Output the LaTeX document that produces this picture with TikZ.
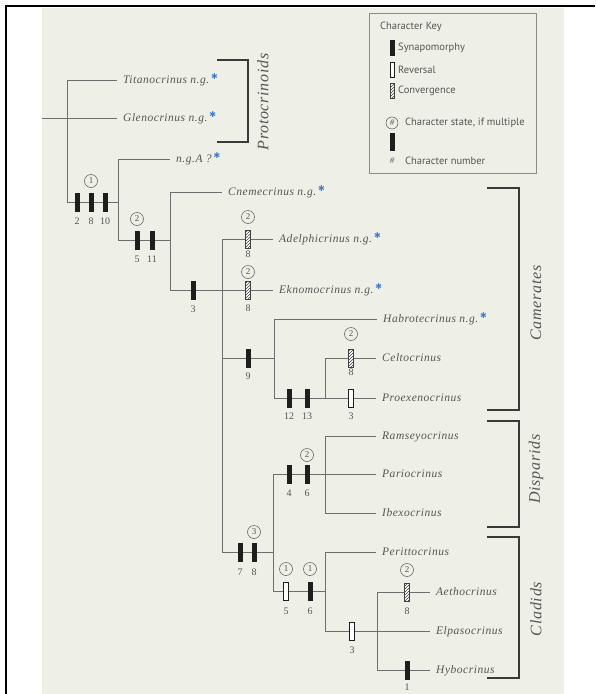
\documentclass[tikz,border=0pt]{standalone}
\usepackage{fontspec}
\setmainfont{Liberation Serif}
\newfontfamily\leaffont{Liberation Serif}[LetterSpace=4.5]
\newfontfamily\keyfont{PT Sans}
\newfontfamily\symfont{DejaVu Sans}
\usetikzlibrary{patterns}
\definecolor{bgbeige}{HTML}{EEEFE6}
\definecolor{linegray}{HTML}{6E6E6E}
\definecolor{textgray}{HTML}{555555}
\definecolor{brackgray}{HTML}{3A3A3A}
\definecolor{markblack}{HTML}{1E1E1E}
\definecolor{starblue}{HTML}{3C7DD9}
\newcommand{\bluestar}{\,\raisebox{3.5pt}{\textcolor{starblue}{\symfont\fontsize{8}{8}\selectfont ✱}}}
\begin{document}
\begin{tikzpicture}[x=1pt,y=-1pt,
  tl/.style={draw=linegray, line width=0.7pt},
  synmark/.style={rectangle, draw=markblack, fill=markblack, minimum width=4.5pt, minimum height=18pt, inner sep=0pt},
  revmark/.style={rectangle, draw=markblack, fill=white, line width=0.6pt, minimum width=4.5pt, minimum height=18pt, inner sep=0pt},
  convmark/.style={rectangle, draw=markblack!85, line width=0.6pt, preaction={fill=white}, pattern=north east lines, pattern color=markblack!85, minimum width=4.5pt, minimum height=18pt, inner sep=0pt},
  cnum/.style={circle, draw=textgray, line width=0.5pt, minimum size=13pt, inner sep=0pt, text=textgray, font=\fontsize{9}{9}\selectfont},
  chnum/.style={inner sep=0pt, text=textgray, font=\fontsize{10}{10}\selectfont},
  leaf/.style={anchor=west, inner xsep=6pt, inner ysep=0pt, text height=8pt, text depth=2pt, text=textgray, font=\leaffont\itshape\fontsize{11.5}{12}\selectfont},
  brk/.style={draw=brackgray, line width=1.6pt},
  grp/.style={rotate=90, inner sep=0pt, text=textgray, font=\leaffont\itshape\fontsize{16}{16}\selectfont},
  keytext/.style={anchor=west, inner sep=0pt, text=textgray, font=\keyfont\fontsize{10.5}{10.5}\selectfont}
]
\useasboundingbox (0,0) rectangle (595,694);
\fill[white] (0,0) rectangle (595,694);
\fill[bgbeige] (42,8) rectangle (564,694);
\draw[black, line width=2pt] (6,694) -- (6,6) -- (595,6);

% key
\draw[draw=linegray!80, line width=0.7pt] (369,13) rectangle (536,173);
\node[keytext] (kt) at (380,27) {Character Key};
\node[synmark, minimum height=15pt, minimum width=4pt] (ks) at (392,48) {};
\node[keytext] (ksl) at (398,48) {Synapomorphy};
\node[revmark, minimum height=15pt, minimum width=4pt] (kr) at (392,70) {};
\node[keytext] (krl) at (398,70) {Reversal};
\node[convmark, minimum height=15pt, minimum width=4pt] (kc) at (392,91) {};
\node[keytext] (kcl) at (398,91) {Convergence};
\node[cnum, minimum size=12pt] (kcs) at (392,123) {\itshape\#};
\node[keytext] (kcsl) at (405,123) {Character state, if multiple};
\node[synmark, minimum height=17pt, minimum width=4pt] (kn) at (392,142) {};
\node[inner sep=0pt, text=textgray, font=\itshape\fontsize{9}{9}\selectfont] (kh) at (392,161) {\#};
\node[keytext] (knl) at (405,161) {Character number};

% leaves
\node[leaf] (tit) at (117,80) {Titanocrinus n.g.\bluestar};
\node[leaf] (gle) at (117,118) {Glenocrinus n.g.\bluestar};
\node[leaf] (nga) at (170,159) {n.g.A ?\bluestar};
\node[leaf] (cne) at (222,192) {Cnemecrinus n.g.\bluestar};
\node[leaf] (ade) at (273,239) {Adelphicrinus n.g.\bluestar};
\node[leaf] (ekn) at (273,290) {Eknomocrinus n.g.\bluestar};
\node[leaf] (hab) at (377,319) {Habrotecrinus n.g.\bluestar};
\node[leaf] (cel) at (376,358) {Celtocrinus};
\node[leaf] (pro) at (376,398) {Proexenocrinus};
\node[leaf] (ram) at (376,436) {Ramseyocrinus};
\node[leaf] (par) at (376,474) {Pariocrinus};
\node[leaf] (ibe) at (376,513) {Ibexocrinus};
\node[leaf] (per) at (376,552) {Perittocrinus};
\node[leaf] (aet) at (430,592) {Aethocrinus};
\node[leaf] (elp) at (430,631) {Elpasocrinus};
\node[leaf] (hyb) at (430,670) {Hybocrinus};

% junctions
\coordinate (gl0) at (42,118);
\coordinate (j0) at (67,202);
\coordinate (j1) at (118,202);
\coordinate (j2) at (170,240);
\coordinate (j3) at (222,290);
\coordinate (j4) at (274,358);
\coordinate (j5) at (273,552);
\coordinate (j6) at (325,398);
\coordinate (j7) at (325,474);
\coordinate (j8) at (325,591);
\coordinate (j9) at (377,631);

\draw[tl] (gl0) -- (gle.west);
\draw[tl] (j0) |- (tit.west);
\draw[tl] (j0) -- (j1);
\draw[tl] (j1) |- (nga.west);
\draw[tl] (j1) |- (j2);
\draw[tl] (j2) |- (cne.west);
\draw[tl] (j2) |- (ekn.west);
\draw[tl] (j3) |- (ade.west);
\draw[tl] (j3) |- (j4);
\draw[tl] (j3) |- (j5);
\draw[tl] (j4) |- (hab.west);
\draw[tl] (j4) |- (j6);
\draw[tl] (j6) |- (cel.west);
\draw[tl] (j6) -- (pro.west);
\draw[tl] (j5) |- (j7);
\draw[tl] (j5) |- (j8);
\draw[tl] (j7) |- (ram.west);
\draw[tl] (j7) -- (par.west);
\draw[tl] (j7) |- (ibe.west);
\draw[tl] (j8) |- (per.west);
\draw[tl] (j8) |- (j9);
\draw[tl] (j9) |- (aet.west);
\draw[tl] (j9) -- (elp.west);
\draw[tl] (j9) |- (hyb.west);

% character marks
\node[synmark] (m1) at (77,202) {};
\node[synmark] (m2) at (91,202) {};
\node[synmark] (m3) at (105,202) {};
\node[cnum] (c1) at (91,181) {1};
\node[chnum] at (77,221) {2};
\node[chnum] at (91,221) {8};
\node[chnum] at (105,221) {10};

\node[synmark] (m4) at (137,240) {};
\node[synmark] (m5) at (152,240) {};
\node[cnum] (c2) at (137,219) {2};
\node[chnum] at (137,259) {5};
\node[chnum] at (152,259) {11};

\node[synmark] (m6) at (193,290) {};
\node[chnum] at (193,309) {3};

\node[convmark] (m7) at (248,239) {};
\node[cnum] (c3) at (248,217) {2};
\node[chnum] at (248,254) {8};

\node[convmark] (m8) at (248,290) {};
\node[cnum] (c4) at (248,272) {2};
\node[chnum] at (248,308) {8};

\node[synmark] (m9) at (248,358) {};
\node[chnum] at (248,376) {9};

\node[synmark] (m10) at (289,398) {};
\node[synmark] (m11) at (307,398) {};
\node[chnum] at (289,416) {12};
\node[chnum] at (307,416) {13};

\node[convmark] (m12) at (351,358) {};
\node[cnum] (c5) at (351,334) {2};
\node[chnum] at (351,372) {8};

\node[revmark] (m13) at (351,398) {};
\node[chnum] at (351,416) {3};

\node[synmark] (m14) at (289,474) {};
\node[synmark] (m15) at (307,474) {};
\node[cnum] (c6) at (307,455) {2};
\node[chnum] at (289,493) {4};
\node[chnum] at (307,493) {6};

\node[synmark] (m16) at (240,552) {};
\node[synmark] (m17) at (254,552) {};
\node[cnum] (c7) at (254,532) {3};
\node[chnum] at (240,572) {7};
\node[chnum] at (254,572) {8};

\node[revmark] (m18) at (286,591) {};
\node[synmark] (m19) at (310,591) {};
\node[cnum] (c8) at (286,569) {1};
\node[cnum] (c9) at (310,569) {1};
\node[chnum] at (286,611) {5};
\node[chnum] at (310,611) {6};

\node[revmark] (m20) at (352,631) {};
\node[chnum] at (352,650) {3};

\node[convmark] (m21) at (407,592) {};
\node[cnum] (c10) at (407,570) {2};
\node[chnum] at (407,611) {8};

\node[synmark] (m22) at (407,670) {};
\node[chnum] at (407,687) {1};

% brackets
\draw[brk] (217,60) -- (248,60) -- (248,142) -- (217,142);
\node[grp] (gP) at (263,102) {Protocrinoids};
\draw[brk] (487,188) -- (519,188) -- (519,410) -- (487,410);
\node[grp] (gC) at (536,303) {Camerates};
\draw[brk] (487,421) -- (519,421) -- (519,527) -- (487,527);
\node[grp] (gD) at (536,469) {Disparids};
\draw[brk] (487,537) -- (519,537) -- (519,678) -- (487,678);
\node[grp] (gL) at (536,609) {Cladids};
\end{tikzpicture}
\end{document}
